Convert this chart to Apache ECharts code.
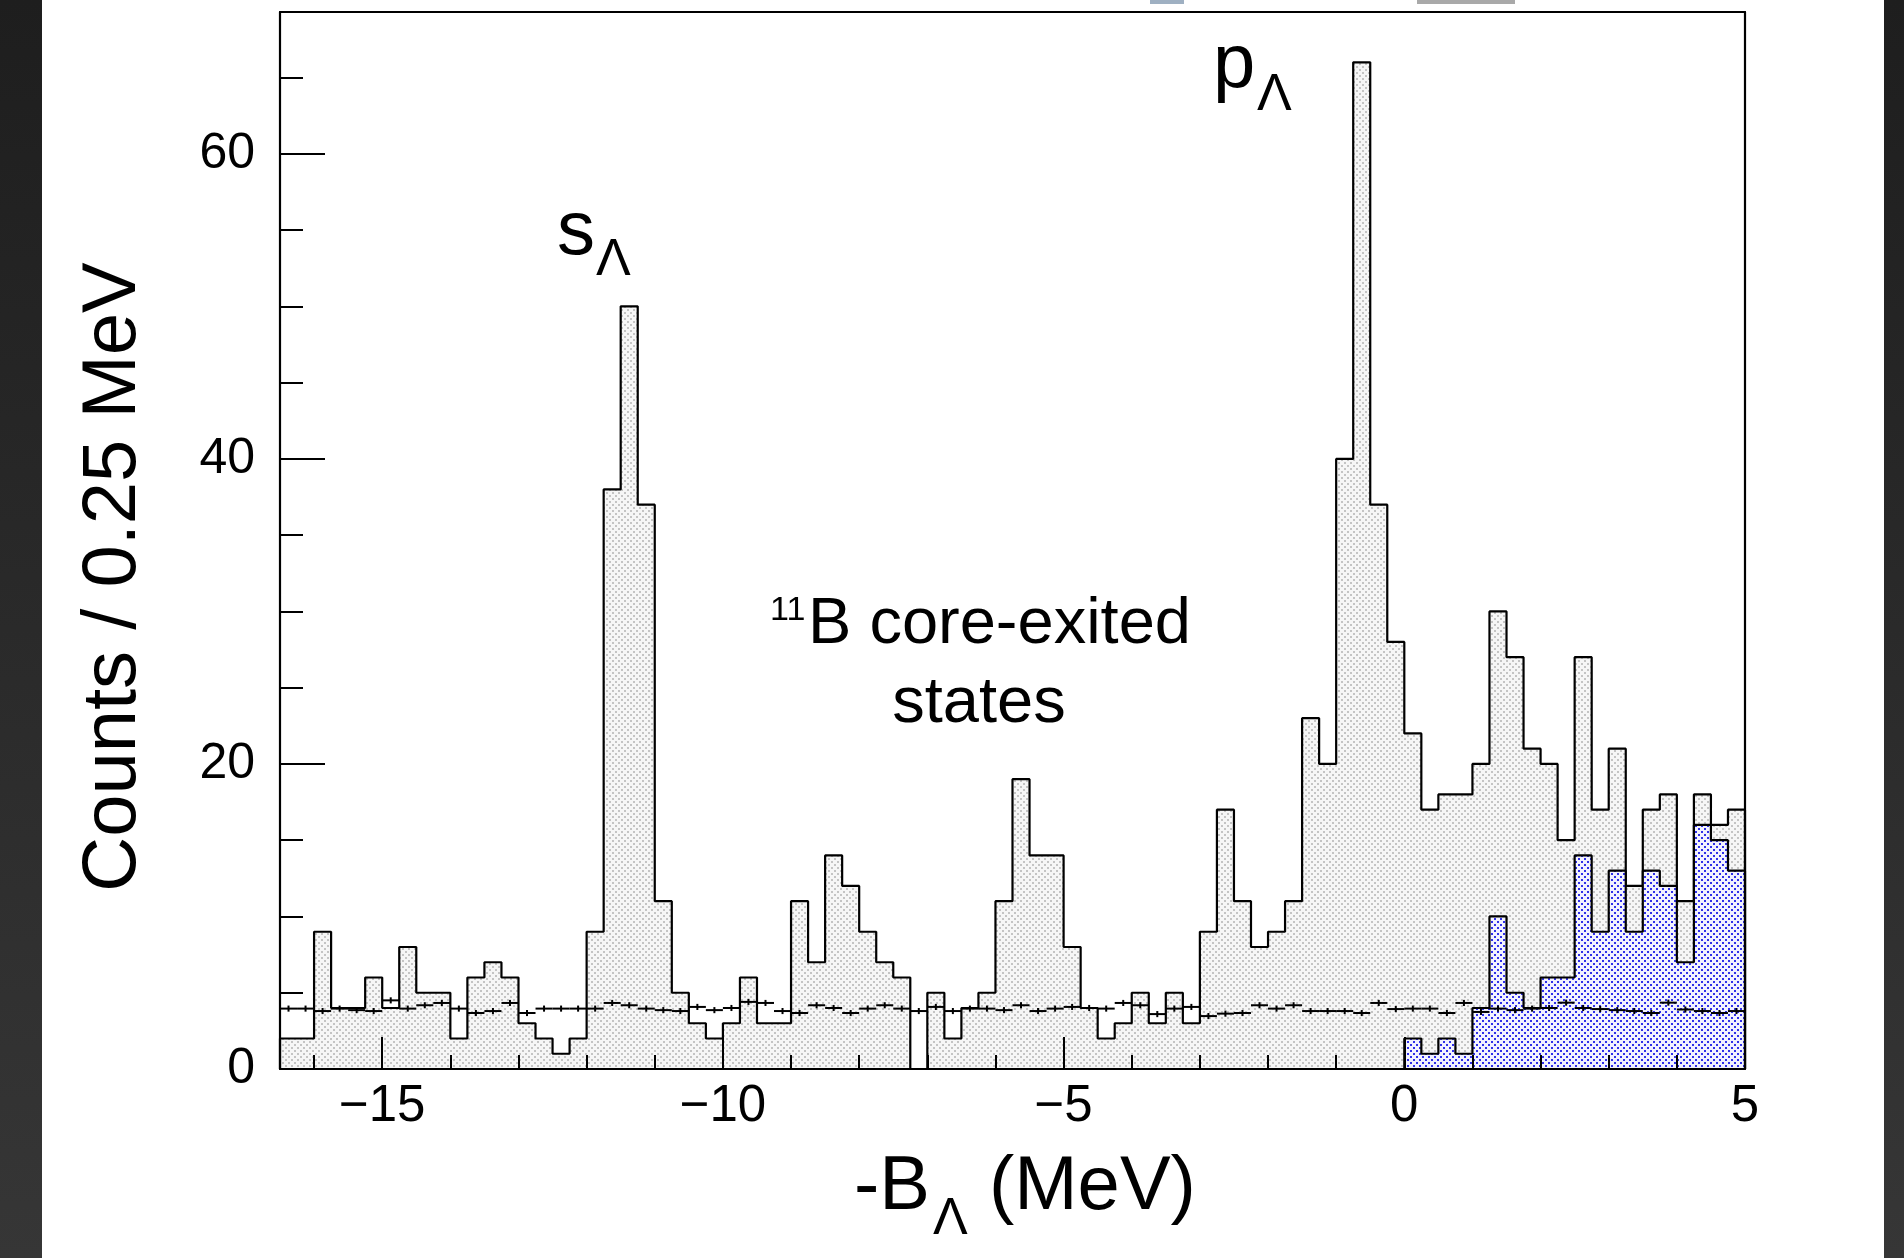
<!DOCTYPE html>
<html>
<head>
<meta charset="utf-8">
<script src="https://cdn.jsdelivr.net/npm/echarts@6/dist/echarts.min.js"></script>
<style>
html, body { margin: 0; padding: 0; background: #fff; }
#main { width: 1904px; height: 1258px; }
</style>
</head>
<body>
<div id="main"></div>
<script>
// binning of the spectrum, 0.25 MeV per bin
var binStart = -16.5;
var binWidth = 0.25;

// total counts per bin (86 bins, -16.5 .. 5 MeV)
var totalCounts = [
  2, 2, 9, 4, 4, 6, 4, 8, 5, 5,
  2, 6, 7, 6, 3, 2, 1, 2, 9, 38,
  50, 37, 11, 5, 3, 2, 3, 6, 3, 3,
  11, 7, 14, 12, 9, 7, 6, 0, 5, 2,
  4, 5, 11, 19, 14, 14, 8, 4, 2, 3,
  5, 3, 5, 3, 9, 17, 11, 8, 9, 11,
  23, 20, 40, 66, 37, 28, 22, 17, 18, 18,
  20, 30, 27, 21, 20, 15, 27, 17, 21, 12,
  17, 18, 11, 18, 16, 17
];

// blue histogram, starts at bin 66 (0 MeV)
var blueStartBin = 66;
var blueCounts = [2, 1, 2, 1, 4, 10, 5, 4, 6, 6, 14, 9, 13, 9, 13, 12, 7, 16, 15, 13];

// accidental background estimate per bin
var bgCounts = [
  3.96, 3.96, 3.8, 3.96, 3.86, 3.8, 4.5, 3.96, 4.18, 4.33,
  3.96, 3.67, 3.8, 4.33, 3.67, 3.96, 3.96, 3.96, 3.96, 4.33,
  4.18, 3.96, 3.86, 3.8, 4.07, 3.86, 4.0, 4.4, 4.33, 3.8,
  3.67, 4.18, 4.0, 3.67, 3.96, 4.18, 3.96, 3.8, 4.07, 3.8,
  3.96, 3.96, 3.86, 4.18, 3.8, 3.96, 4.07, 4.0, 3.96, 4.33,
  4.18, 3.6, 3.96, 4.07, 3.47, 3.63, 3.67, 4.18, 3.96, 4.18,
  3.8, 3.8, 3.8, 3.67, 4.33, 3.93, 3.96, 3.96, 3.67, 4.33,
  3.74, 3.96, 3.86, 3.96, 4.0, 4.35, 4.0, 3.93, 3.86, 3.8,
  3.67, 4.35, 3.9, 3.8, 3.67, 3.8
];
var bgErr = 0.2;

var xTicks = [-15, -10, -5, 0, 5];
var xMinorTicks = [-16, -15, -14, -13, -12, -11, -10, -9, -8, -7, -6, -5, -4, -3, -2, -1, 0, 1, 2, 3, 4, 5];
var yTicks = [0, 20, 40, 60];
var yMinorTicks = [5, 10, 15, 25, 30, 35, 45, 50, 55, 65];
var xMin = -16.5, xMax = 5, yMax = 69.3;

var FONT = '"Liberation Sans", Arial, Helvetica, sans-serif';

// step outline points: left edge of every bin, closed down to zero at both ends
function stepData(counts, firstBin) {
  var pts = [];
  var e0 = binStart + firstBin * binWidth;
  pts.push([e0, 0]);
  for (var i = 0; i < counts.length; i++) {
    pts.push([binStart + (firstBin + i) * binWidth, counts[i]]);
  }
  var eN = binStart + (firstBin + counts.length) * binWidth;
  pts.push([eN, counts[counts.length - 1]]);
  pts.push([eN, 0]);
  return pts;
}

function dotPattern(bg, dot, size, dotSize) {
  var c = document.createElement('canvas');
  c.width = size; c.height = size;
  var ctx = c.getContext('2d');
  ctx.fillStyle = bg;
  ctx.fillRect(0, 0, size, size);
  ctx.fillStyle = dot;
  ctx.fillRect(0, 0, dotSize, dotSize);
  ctx.fillRect(size / 2, size / 2, dotSize, dotSize);
  return c;
}

var grayFill = { image: dotPattern('#f6f6f6', '#c4c4c4', 6, 2), repeat: 'repeat' };
var blueFill = { image: dotPattern('#f2f2ff', '#2f2fe8', 6, 2), repeat: 'repeat' };

var bgData = bgCounts.map(function (v, i) {
  return [binStart + i * binWidth, binStart + (i + 1) * binWidth, v];
});

function minus(v) { return String(v).replace('-', '\u2212'); }

var chart = echarts.init(document.getElementById('main'), null, { renderer: 'canvas' });

var barGrad = {
  type: 'linear', x: 0, y: 0, x2: 0, y2: 1,
  colorStops: [{ offset: 0, color: '#1e1e1e' }, { offset: 1, color: '#363636' }]
};

var option = {
  backgroundColor: '#ffffff',
  animation: false,
  grid: { left: 280, right: 159, top: 12, bottom: 189, outerBoundsMode: 'none' },
  xAxis: [
    {
      type: 'value', min: xMin, max: xMax, position: 'bottom', z: 10,
      axisLine: { show: true, onZero: false, lineStyle: { color: '#000', width: 2.2 } },
      axisTick: { show: true, inside: true, length: 32, customValues: xTicks, lineStyle: { color: '#000', width: 2 } },
      axisLabel: { show: true, customValues: xTicks, margin: 12, color: '#000', fontSize: 51, fontFamily: FONT, formatter: minus },
      splitLine: { show: false }
    },
    {
      type: 'value', min: xMin, max: xMax, position: 'bottom', z: 10,
      axisLine: { show: false, onZero: false },
      axisTick: { show: true, inside: true, length: 14, customValues: xMinorTicks, lineStyle: { color: '#000', width: 2 } },
      axisLabel: { show: false },
      splitLine: { show: false }
    },
    {
      type: 'value', min: xMin, max: xMax, position: 'top', z: 10,
      axisLine: { show: true, onZero: false, lineStyle: { color: '#000', width: 2.2 } },
      axisTick: { show: false }, axisLabel: { show: false }, splitLine: { show: false }
    }
  ],
  yAxis: [
    {
      type: 'value', min: 0, max: yMax, position: 'left', z: 10,
      axisLine: { show: true, onZero: false, lineStyle: { color: '#000', width: 2.2 } },
      axisTick: { show: true, inside: true, length: 45, customValues: yTicks, lineStyle: { color: '#000', width: 2 } },
      axisLabel: { show: true, customValues: yTicks, margin: 25, color: '#000', fontSize: 50, fontFamily: FONT },
      splitLine: { show: false }
    },
    {
      type: 'value', min: 0, max: yMax, position: 'left', z: 10,
      axisLine: { show: false, onZero: false },
      axisTick: { show: true, inside: true, length: 23, customValues: yMinorTicks, lineStyle: { color: '#000', width: 2 } },
      axisLabel: { show: false }, splitLine: { show: false }
    },
    {
      type: 'value', min: 0, max: yMax, position: 'right', z: 10,
      axisLine: { show: true, onZero: false, lineStyle: { color: '#000', width: 2.2 } },
      axisTick: { show: false }, axisLabel: { show: false }, splitLine: { show: false }
    }
  ],
  series: [
    {
      name: 'total', type: 'line', step: 'end', xAxisIndex: 0, yAxisIndex: 0,
      data: stepData(totalCounts, 0), symbol: 'none', z: 2,
      lineStyle: { color: '#000', width: 2.2 },
      areaStyle: { color: grayFill, opacity: 1 }
    },
    {
      name: 'blue', type: 'line', step: 'end', xAxisIndex: 0, yAxisIndex: 0,
      data: stepData(blueCounts, blueStartBin), symbol: 'none', z: 3,
      lineStyle: { color: '#000', width: 2.2 },
      areaStyle: { color: blueFill, opacity: 1 }
    },
    {
      name: 'background', type: 'custom', xAxisIndex: 0, yAxisIndex: 0, z: 5,
      data: bgData,
      encode: { x: [0, 1], y: 2 },
      renderItem: function (params, api) {
        var x0 = api.value(0), x1 = api.value(1), v = api.value(2);
        var pL = api.coord([x0, v]), pR = api.coord([x1, v]);
        var xm = (x0 + x1) / 2;
        var pT = api.coord([xm, v + bgErr]), pB = api.coord([xm, v - bgErr]);
        return {
          type: 'group',
          children: [
            { type: 'line', shape: { x1: pL[0], y1: pL[1], x2: pR[0], y2: pR[1] }, style: { stroke: '#000', lineWidth: 2 } },
            { type: 'line', shape: { x1: pT[0], y1: pT[1], x2: pB[0], y2: pB[1] }, style: { stroke: '#000', lineWidth: 2 } }
          ]
        };
      }
    }
  ],
  graphic: [
    { type: 'rect', shape: { x: 0, y: 0, width: 42, height: 1258 }, style: { fill: barGrad }, z: 100 },
    { type: 'rect', shape: { x: 1884, y: 0, width: 20, height: 1258 }, style: { fill: barGrad }, z: 100 },
    { type: 'rect', shape: { x: 1417, y: 0, width: 98, height: 4 }, style: { fill: '#a9a9a9' }, z: 100 },
    { type: 'rect', shape: { x: 1150, y: 0, width: 34, height: 4 }, style: { fill: '#9fb0c2' }, z: 100 },
    // y axis title
    { type: 'text', x: 114, y: 577, rotation: Math.PI / 2, z: 100,
      style: { text: 'Counts / 0.25 MeV', font: '76px ' + FONT, fill: '#000', textAlign: 'center', textVerticalAlign: 'middle', align: 'center', verticalAlign: 'middle' } },
    // x axis title -B_Lambda (MeV)
    { type: 'text', x: 854, y: 1188, z: 100,
      style: { text: '-B', font: '76px ' + FONT, fill: '#000', textAlign: 'left', textVerticalAlign: 'middle', align: 'left', verticalAlign: 'middle' } },
    { type: 'text', x: 933, y: 1220, z: 100,
      style: { text: '\u039b', font: '52px ' + FONT, fill: '#000', textAlign: 'left', textVerticalAlign: 'middle', align: 'left', verticalAlign: 'middle' } },
    { type: 'text', x: 989, y: 1188, z: 100,
      style: { text: '(MeV)', font: '76px ' + FONT, fill: '#000', textAlign: 'left', textVerticalAlign: 'middle', align: 'left', verticalAlign: 'middle' } },
    // s_Lambda
    { type: 'text', x: 557, y: 233, z: 100,
      style: { text: 's', font: '76px ' + FONT, fill: '#000', textAlign: 'left', textVerticalAlign: 'middle', align: 'left', verticalAlign: 'middle' } },
    { type: 'text', x: 596, y: 261, z: 100,
      style: { text: '\u039b', font: '52px ' + FONT, fill: '#000', textAlign: 'left', textVerticalAlign: 'middle', align: 'left', verticalAlign: 'middle' } },
    // p_Lambda
    { type: 'text', x: 1213, y: 66, z: 100,
      style: { text: 'p', font: '76px ' + FONT, fill: '#000', textAlign: 'left', textVerticalAlign: 'middle', align: 'left', verticalAlign: 'middle' } },
    { type: 'text', x: 1257, y: 96, z: 100,
      style: { text: '\u039b', font: '52px ' + FONT, fill: '#000', textAlign: 'left', textVerticalAlign: 'middle', align: 'left', verticalAlign: 'middle' } },
    // 11B core-exited states
    { type: 'text', x: 770, y: 611, z: 100,
      style: { text: '11', font: '34px ' + FONT, fill: '#000', textAlign: 'left', textVerticalAlign: 'middle', align: 'left', verticalAlign: 'middle' } },
    { type: 'text', x: 808, y: 625, z: 100,
      style: { text: 'B core-exited', font: '65px ' + FONT, fill: '#000', textAlign: 'left', textVerticalAlign: 'middle', align: 'left', verticalAlign: 'middle' } },
    { type: 'text', x: 979, y: 704, z: 100,
      style: { text: 'states', font: '65px ' + FONT, fill: '#000', textAlign: 'center', textVerticalAlign: 'middle', align: 'center', verticalAlign: 'middle' } }
  ]
};

chart.setOption(option);
</script>
</body>
</html>
